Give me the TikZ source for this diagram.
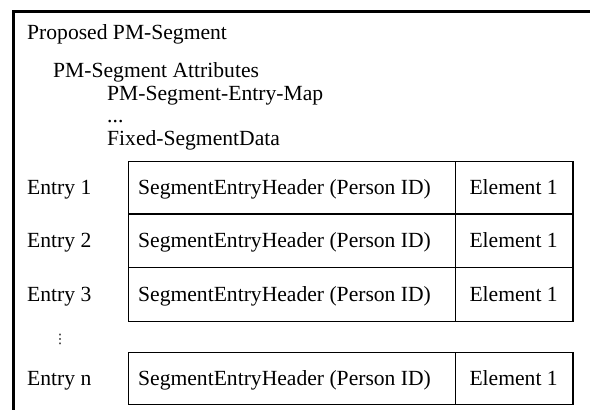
\documentclass[tikz,border=0pt]{standalone}
\usepackage{fontspec}
\setmainfont{Liberation Serif}
\newfontfamily\symfont{DejaVu Sans}
\begin{document}
\begin{tikzpicture}[x=1pt,y=-1pt,
  font=\fontsize{21.6}{26}\selectfont,
  lbl/.style={anchor=base west,inner sep=0pt},
  clbl/.style={anchor=base,inner sep=0pt},
  cell/.style={draw,line width=1.2pt,inner sep=0pt,anchor=north west,minimum height=#1},
  hdrcell/.style={cell=#1,minimum width=327pt},
  elcell/.style={cell=#1,minimum width=117.3pt}]
\useasboundingbox (0,0) rectangle (590,410);
\clip (0,0) rectangle (590,410);
% outer frame (continues past the right and bottom edges)
\draw[line width=3pt] (13.7,430) -- (13.7,11.7) -- (610,11.7);
% header texts
\node[lbl] (title) at (27,39) {Proposed PM-Segment};
\node[lbl] (attr) at (53,77) {PM-Segment Attributes};
\node[lbl] (map) at (107,100) {PM-Segment-Entry-Map};
\node[lbl] (ell) at (107,122) {...};
\node[lbl] (fixed) at (107,145) {Fixed-SegmentData};
% table cells
\node[hdrcell=52.6pt] (h1) at (128,160.7) {};
\node[elcell=52.6pt] (e1) at (455,160.7) {};
\node[hdrcell=53.7pt] (h2) at (128,213.3) {};
\node[elcell=53.7pt] (e2) at (455,213.3) {};
\node[hdrcell=53.7pt] (h3) at (128,267) {};
\node[elcell=53.7pt] (e3) at (455,267) {};
\node[hdrcell=52pt] (hn) at (128,352) {};
\node[elcell=52pt] (en) at (455,352) {};
% row labels
\node[lbl] (r1) at (27,194.5) {Entry 1};
\node[lbl] (r2) at (27,247.7) {Entry 2};
\node[lbl] (r3) at (27,301.4) {Entry 3};
\node[lbl] (rn) at (27,385.5) {Entry n};
\node[inner sep=0pt] (vd) at (60,339) {\symfont\fontsize{13}{13}\selectfont ⋮};
% cell texts
\node[lbl] (th1) at (138,194.5) {SegmentEntryHeader (Person ID)};
\node[lbl] (th2) at (138,247.7) {SegmentEntryHeader (Person ID)};
\node[lbl] (th3) at (138,301.4) {SegmentEntryHeader (Person ID)};
\node[lbl] (thn) at (138,385.5) {SegmentEntryHeader (Person ID)};
\node[clbl] (te1) at (513.6,194.5) {Element 1};
\node[clbl] (te2) at (513.6,247.7) {Element 1};
\node[clbl] (te3) at (513.6,301.4) {Element 1};
\node[clbl] (ten) at (513.6,385.5) {Element 1};
\end{tikzpicture}
\end{document}
